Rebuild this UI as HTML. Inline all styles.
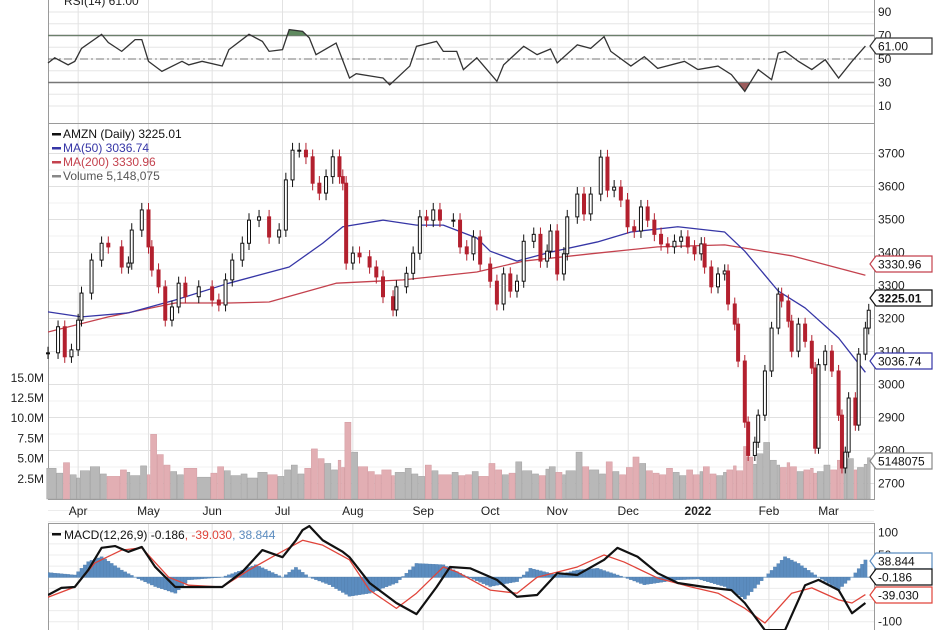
<!DOCTYPE html>
<html><head><meta charset="utf-8"><style>
html,body{margin:0;padding:0;background:#fff;}
svg{display:block;font-family:"Liberation Sans",sans-serif;}
</style></head><body>
<svg id="c" width="936" height="630" viewBox="0 0 936 630" xmlns="http://www.w3.org/2000/svg">
<defs>
<clipPath id="cpPrice"><rect x="48" y="123" width="826" height="376"/></clipPath>
<clipPath id="cpMacd"><rect x="48" y="523" width="826" height="107"/></clipPath>
<clipPath id="cpRsiHi"><rect x="48" y="0" width="826" height="36"/></clipPath>
<clipPath id="cpRsiLo"><rect x="48" y="83" width="826" height="40"/></clipPath>
</defs>
<g id="grid"></g>
<g id="marks"></g>
<g id="labels"></g>
</svg>
<script>
// ---- data ----
const closeDays = [0,3,5,7,9,10,13,16,18,22,24,25,28,30,31,33,35,37,39,41,45,49,51,53,55,58,60,63,66,69,71,73,75,77,79,81,83,85,87,88,
89,91,93,96,98,100,103,104,107,109,111,113,115,117,121,123,
125,127,129,132,134,136,138,140,142,145,147,149,150,152,154,155,158,160,162,165,167,169,171,173,175,177,179,181,183,185,187,189,191,193,195,196,198,200,202,203,205,206,208,209,211,212,214,216,218,219,221,222,224,226,228,229,230,232,234,236,237,238,239,241,242,244,245];
const closes = [3096,3175,3084,3105,3195,3277,3377,3428,3417,3356,3368,3468,3529,3417,3347,3296,3195,3235,3307,3266,3296,3256,3241,3317,3377,3428,3498,3508,3447,3468,3620,3710,3710,3690,3610,3580,3630,3690,3630,3610,
3368,3398,3387,3356,3326,3266,3226,3296,3337,3398,3508,3498,3529,3498,3498,3417,
3396,3447,3365,3313,3244,3335,3283,3313,3434,3455,3374,3404,3465,3335,3396,3508,3577,3517,3577,3689,3589,3598,3559,3478,3465,3538,3498,3455,3426,3417,3434,3447,3417,3396,3426,3356,3296,3335,3344,3244,3183,3071,2886,2785,2825,2907,3041,3171,3274,3253,3192,3101,3183,3131,3050,2807,3060,3101,3041,2907,2747,2795,2959,2877,3092,3171,3225];
const volumes = [3.8,3.2,4.5,3.0,2.6,3.5,4.0,3.1,2.8,3.6,3.3,2.9,4.1,3.0,8.0,5.5,4.2,3.4,3.0,3.8,2.7,3.2,4.0,3.5,2.9,3.1,2.6,3.3,3.0,2.8,3.6,4.2,3.1,3.8,6.2,5.0,4.4,3.6,4.8,3.9,
9.5,5.8,4.0,3.4,3.0,3.6,2.9,3.3,3.8,3.1,2.8,4.2,3.5,3.0,3.3,2.9,
3.0,3.4,2.8,4.4,3.6,3.0,3.2,4.6,3.5,3.1,2.9,3.7,4.0,3.3,3.0,3.5,5.8,4.0,3.6,3.1,4.6,3.4,3.0,3.9,5.2,4.4,3.5,3.2,3.0,3.8,3.3,2.9,3.6,3.0,3.4,4.0,3.1,2.9,3.3,3.6,4.1,3.5,6.5,5.2,4.3,5.6,7.0,4.8,4.2,3.9,4.5,4.0,3.4,3.6,3.8,3.2,3.4,4.2,3.6,4.8,3.9,4.5,5.0,3.6,3.9,4.3,5.1];
const ma50Days = [0,10,24,38,54,72,82,88,100,110,118,128,132,140,150,164,174,188,202,208,218,226,236,244];
const ma50Vals = [3220,3205,3217,3256,3307,3356,3428,3478,3498,3483,3483,3444,3404,3374,3401,3432,3462,3478,3462,3404,3283,3232,3141,3037];
const ma200Days = [0,18,38,54,66,86,106,128,142,162,182,202,222,244];
const ma200Vals = [3159,3205,3247,3247,3250,3307,3317,3341,3374,3396,3417,3423,3390,3331];
const rsiDays = [0,2,6,8,10,16,18,22,26,28,30,34,40,42,46,52,54,60,64,66,70,72,76,78,80,86,90,92,100,102,108,110,116,118,122,124,128,134,136,142,146,150,152,158,162,166,168,174,178,182,190,194,200,204,208,212,216,218,220,224,228,232,236,240,244];
const rsiVals = [46.6,51,45,48,59,71,64,56.5,66.5,66.5,48,39.5,48,45,48,44,58,71,65,56.5,58,75,73.5,68,53.7,63.6,33.8,37.5,33.8,28,44,60.8,65,56.5,56.5,41,51,31,45,60.8,53.7,58.5,46.6,62,59,69,56.5,44,52,42,48,41,44,36.7,22.5,41,32.4,55,56.5,48,41,49.4,33.8,48,61];
const macdDays = [0,4,8,12,16,20,24,28,32,38,42,52,58,64,70,74,76,78,82,88,90,96,104,110,116,120,126,134,140,146,152,158,166,170,176,182,188,196,204,208,214,220,226,230,236,240,244];
const macdVals = [-40,-24,-22,16,66,70,57,68,23,-22,-22,-22,12,61,45,83,106,115,83,57,45,-13,-58,-83,-22,23,20,-6,-44,-40,9,5,39,66,46,9,-13,-22,-29,-58,-119,-119,-18,-6,-29,-81,-58,0];
const signalDays = [0,8,14,22,28,36,42,52,60,68,76,82,90,96,104,110,118,122,132,140,146,158,166,172,182,192,200,208,214,222,228,236,240,244];
const signalVals = [-45,-22,32,61,66,0,-18,-22,16,50,83,72,39,-29,-70,-36,23,12,-29,-36,0,23,50,34,-2,-22,-36,-70,-103,-36,-24,-51,-58,-39];
const histDays = [0,8,12,16,22,26,32,38,42,52,58,62,70,74,78,84,90,96,104,110,118,124,132,140,144,152,158,164,172,178,188,194,202,208,214,220,224,230,236,240,244];
const histVals = [10.5,5,35,46,16,0,-21,-36,-6,0,16,28,0,22,0,-17,-43,-36,-13,31,28,5,-21,-10,20,5,16,20,0,-17,-6,-4,-21,-49,0,46,31,0,-28,0,38.8];
const monthDays = [9,30,49,70,91,112,132,152,173.2,194,215.2,233];
const monthLabels = ["Apr","May","Jun","Jul","Aug","Sep","Oct","Nov","Dec","2022","Feb","Mar"];
const priceTicks = [2700,2800,2900,3000,3100,3200,3300,3400,3500,3600,3700];
const priceTickLabels = ["2700","2800","2900","3000","3100","3200","3300","3400","3500","3600","3700"];
const volTicks = [2.5,5,7.5,10,12.5,15];
const volTickLabels = ["2.5M","5.0M","7.5M","10.0M","12.5M","15.0M"];
const rsiTicks = [10,30,50,70,90];
const macdTicks = [100,50,-50,-100];

// ---- scales ----
const L = 48, R = 874, DAYW = 3.35;
const xDay = d => 48 + d * DAYW;
const yPrice = p => 153.5 + (3700 - p) * 0.33;
const yVol = v => 499 - v * 8.08;
const yRsi = v => 59 - (v - 50) * 1.175;
const yMacd = v => 577.2 - v * 0.445;
const N = closes.length;

const NS = "http://www.w3.org/2000/svg";
function mk(tag, attrs, parent, text) {
  const e = document.createElementNS(NS, tag);
  for (const k in attrs) e.setAttribute(k, attrs[k]);
  if (text !== undefined) e.textContent = text;
  parent.appendChild(e);
  return e;
}
const G = document.getElementById('grid');
const M = document.getElementById('marks');
const T = document.getElementById('labels');

// ---- grids ----
for (let v = 10; v <= 90; v += 10) {
  const ln = mk('line', {x1: L, x2: R, y1: yRsi(v), y2: yRsi(v), stroke: '#e6e6e6', 'stroke-width': 1}, G);
  
  
}
for (let p = 2700; p <= 3700; p += 50) {
  const ln = mk('line', {x1: L, x2: R, y1: yPrice(p), y2: yPrice(p), stroke: p % 100 ? '#f0f0f0' : '#e0e0e0', 'stroke-width': 1}, G);
  
  
}
for (let v = -150; v <= 150; v += 25) {
  const ln = mk('line', {x1: L, x2: R, y1: yMacd(v), y2: yMacd(v), stroke: '#ececec', 'stroke-width': 1}, G);
  
  
}
monthDays.forEach((d, i) => {
  const x = xDay(d);
  [[0, 123], [123, 499], [523, 630]].forEach(([a, b]) => {
    const ln = mk('line', {x1: x, x2: x, y1: a, y2: b, stroke: '#e2e2e2', 'stroke-width': 1}, G);
    
    
  });
  const t = mk('text', {x: x, y: 515, 'text-anchor': 'middle', 'font-size': 12, fill: '#222', 'font-weight': monthLabels[i] === '2022' ? 'bold' : 'normal'}, T, monthLabels[i]);
  
  
});
[[L, -2, R - L, 125], [L, 123, R - L, 376], [L, 523, R - L, 110]].forEach(r => {
  const b = mk('rect', {x: r[0] + 0.5, y: r[1] + 0.5, width: r[2], height: r[3], fill: 'none', stroke: '#9a9a9a', 'stroke-width': 1}, G);
  
  
});

// ---- RSI ----
[30, 70].forEach(v => {
  const ln = mk('line', {x1: L, x2: R, y1: yRsi(v), y2: yRsi(v), stroke: '#777', 'stroke-width': 1.5}, M);
  
  
});
const mid = mk('line', {x1: L, x2: R, y1: yRsi(50), y2: yRsi(50), stroke: '#777', 'stroke-width': 1, 'stroke-dasharray': '8,3,2,3'}, M);


const rsiPts = rsiDays.map((d, i) => xDay(d) + ',' + yRsi(rsiVals[i]));
const lastD = rsiDays[rsiDays.length - 1];
const hi = mk('polygon', {points: xDay(0) + ',' + yRsi(70) + ' ' + rsiPts.join(' ') + ' ' + xDay(lastD) + ',' + yRsi(70), fill: '#5f8a5f', 'clip-path': 'url(#cpRsiHi)'}, M);


const lo = mk('polygon', {points: xDay(0) + ',' + yRsi(30) + ' ' + rsiPts.join(' ') + ' ' + xDay(lastD) + ',' + yRsi(30), fill: '#9c5c5c', 'clip-path': 'url(#cpRsiLo)'}, M);


const rsiLine = mk('polyline', {points: rsiPts.join(' '), fill: 'none', stroke: '#333', 'stroke-width': 1.3}, M);


rsiTicks.forEach(v => {
  const t = mk('text', {x: 878, y: yRsi(v) + 4, 'font-size': 12, fill: '#222'}, T, String(v));
  
  
});
const rsiTitle = mk('text', {x: 64, y: 5, 'font-size': 12, fill: '#222'}, T, 'RSI(14) 61.00');



// ---- volume ----
closes.forEach((c, i) => {
  if (i >= volumes.length) return;
  const prev = i ? closes[i - 1] : c;
  const up = c >= prev;
  const gap = i < N - 1 ? closeDays[i + 1] - closeDays[i] : 1;
  const w = Math.max(2.6, gap * DAYW - 0.6);
  const b = mk('rect', {x: xDay(closeDays[i]) - 1.3, y: yVol(volumes[i]), width: w, height: 499 - yVol(volumes[i]), fill: up ? '#b8b8b8' : '#e2aeb3', stroke: up ? '#a0a0a0' : '#d39aa0', 'stroke-width': 0.5}, M);
  
  
});
volTicks.forEach((v, i) => {
  const t = mk('text', {x: 44, y: yVol(v) + 4, 'text-anchor': 'end', 'font-size': 12, fill: '#222'}, T, volTickLabels[i]);
  
  
});

// ---- moving averages ----
const ma200 = mk('polyline', {points: ma200Days.map((d, i) => xDay(d) + ',' + yPrice(ma200Vals[i])).join(' '), fill: 'none', stroke: '#c4424e', 'stroke-width': 1.3, 'stroke-linejoin': 'round', 'clip-path': 'url(#cpPrice)'}, M);


const ma50 = mk('polyline', {points: ma50Days.map((d, i) => xDay(d) + ',' + yPrice(ma50Vals[i])).join(' '), fill: 'none', stroke: '#3636a6', 'stroke-width': 1.3, 'stroke-linejoin': 'round', 'clip-path': 'url(#cpPrice)'}, M);



// ---- candles ----
closes.forEach((c, i) => {
  const o = i ? closes[i - 1] : c;
  const up = c >= o;
  const col = up ? '#111' : '#b3202e';
  const x = xDay(closeDays[i]);
  const hiP = Math.max(o, c) * 1.006, loP = Math.min(o, c) * 0.994;
  const w = mk('line', {x1: x, x2: x, y1: yPrice(hiP), y2: yPrice(loP), stroke: col, 'stroke-width': 1}, M);
  
  
  const top = yPrice(Math.max(o, c)), bot = yPrice(Math.min(o, c));
  const r = mk('rect', {x: x - 1.5, y: top, width: 3, height: Math.max(1, bot - top), fill: up ? '#fff' : col, stroke: col, 'stroke-width': 1}, M);
  
  
});
priceTicks.forEach((p, i) => {
  const t = mk('text', {x: 878, y: yPrice(p) + 4, 'font-size': 12, fill: '#222'}, T, priceTickLabels[i]);
  
  
});

// ---- MACD ----
const zl = mk('line', {x1: L, x2: R, y1: yMacd(0), y2: yMacd(0), stroke: '#8aaed0', 'stroke-width': 1}, M);


function interp(days, vals, d) {
  for (let k = 0; k < days.length - 1; k++) {
    if (d >= days[k] && d <= days[k + 1]) {
      const t = (d - days[k]) / (days[k + 1] - days[k] || 1);
      return vals[k] + t * (vals[k + 1] - vals[k]);
    }
  }
  return vals[vals.length - 1];
}
const histEnd = histDays[histDays.length - 1];
for (let d = 0; d <= histEnd; d++) {
  const v = interp(histDays, histVals, d);
  const y0 = yMacd(0), y1 = yMacd(v);
  const b = mk('rect', {x: xDay(d) - 1.6, y: Math.min(y0, y1), width: 3.3, height: Math.abs(y1 - y0), fill: '#5b8cbf', stroke: '#4a78a8', 'stroke-width': 0.3, 'clip-path': 'url(#cpMacd)'}, M);
  
  
}
const sig = mk('polyline', {points: signalDays.map((d, i) => xDay(d) + ',' + yMacd(signalVals[i])).join(' '), fill: 'none', stroke: '#e0443a', 'stroke-width': 1.3, 'stroke-linejoin': 'round', 'clip-path': 'url(#cpMacd)'}, M);


const mac = mk('polyline', {points: macdDays.map((d, i) => xDay(d) + ',' + yMacd(macdVals[i])).join(' '), fill: 'none', stroke: '#111', 'stroke-width': 2.2, 'stroke-linejoin': 'round', 'clip-path': 'url(#cpMacd)'}, M);


macdTicks.forEach(v => {
  const t = mk('text', {x: 878, y: yMacd(v) + 4, 'font-size': 12, fill: '#222'}, T, String(v));
  
  
});

// ---- value tags ----
function tag(y, text, color, name, bold) {
  const g = mk('g', {}, T);
  
  
  mk('polygon', {points: `870,${y} 876,${y - 8} 932,${y - 8} 932,${y + 8} 876,${y + 8}`, fill: '#fff', stroke: color, 'stroke-width': 1.2}, g);
  mk('text', {x: 878, y: y + 4.5, 'font-size': 12, fill: '#111', 'font-weight': bold ? 'bold' : 'normal'}, g, text);
}
tag(46, '61.00', '#333', 'rsi-value-tag');
tag(264, '3330.96', '#c4424e', 'ma200-value-tag');
tag(298, '3225.01', '#111', 'price-value-tag', true);
tag(361, '3036.74', '#3636a6', 'ma50-value-tag');
tag(461, '5148075', '#888', 'volume-value-tag');
tag(561, '38.844', '#5b8cbf', 'histogram-value-tag');
tag(577, '-0.186', '#111', 'macd-value-tag');
tag(595, '-39.030', '#e0443a', 'signal-value-tag');

// ---- legends ----
function legend(y, swatch, text, color, name) {
  const g = mk('g', {}, T);
  
  
  mk('rect', {x: 52, y: y - 5, width: 9, height: 2.5, fill: swatch}, g);
  mk('text', {x: 63, y: y, 'font-size': 12, fill: color}, g, text);
}
legend(138, '#111', 'AMZN (Daily) 3225.01', '#111', 'legend-amzn');
legend(152, '#3636a6', 'MA(50) 3036.74', '#3636a6', 'legend-ma50');
legend(166, '#c4424e', 'MA(200) 3330.96', '#c4424e', 'legend-ma200');
legend(180, '#888', 'Volume 5,148,075', '#555', 'legend-volume');
const mt = mk('text', {x: 64, y: 539, 'font-size': 12, fill: '#111'}, T);


mk('tspan', {}, mt, 'MACD(12,26,9) -0.186');
mk('tspan', {fill: '#e0443a'}, mt, ', -39.030');
mk('tspan', {fill: '#5b8cbf'}, mt, ', 38.844');
const ms = mk('rect', {x: 52, y: 533, width: 9, height: 2.5, fill: '#111'}, T);


</script>
</body></html>
